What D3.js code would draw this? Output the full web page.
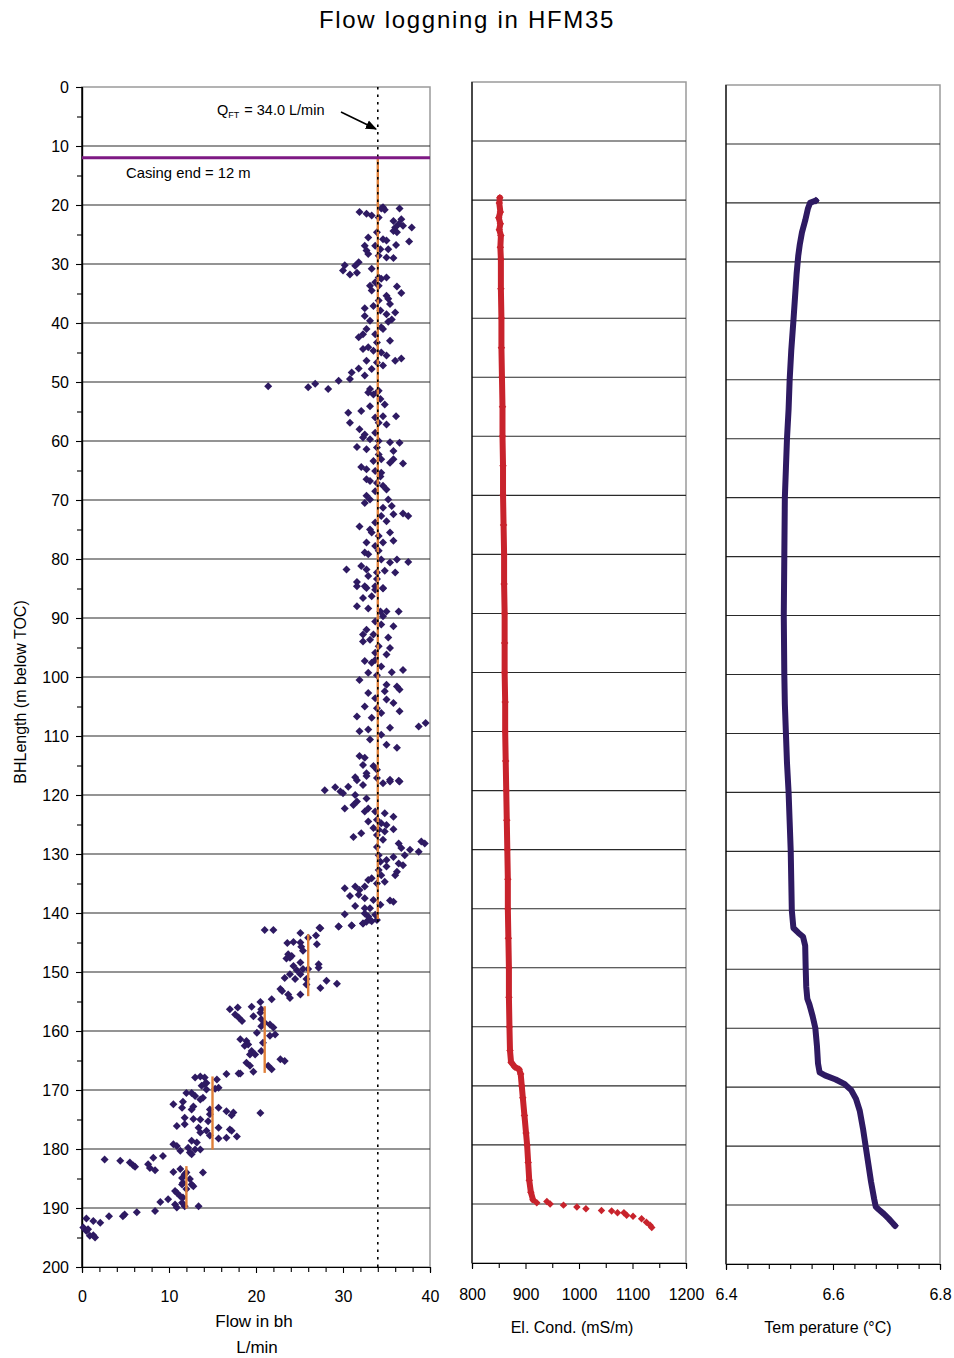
<!DOCTYPE html>
<html><head><meta charset="utf-8">
<script src="https://cdn.jsdelivr.net/npm/d3@7"></script>
<style>
body{margin:0;background:#fff}
svg{display:block}
text{font-family:"Liberation Sans",Arial,sans-serif;fill:#000}
</style>
</head><body>
<svg id="c" width="954" height="1358"></svg>
<script>
const chartTitle = "Flow loggning in HFM35";
const depthTicks = [0,10,20,30,40,50,60,70,80,90,100,110,120,130,140,150,160,170,180,190,200];
const depthMinorTicks = [5,15,25,35,45,55,65,75,85,95,105,115,125,135,145,155,165,175,185,195];
const flowTicks = [0,10,20,30,40];
const flowMinorTicks = [2,4,6,8,12,14,16,18,22,24,26,28,32,34,36,38];
const ecTicks = [800,900,1000,1100,1200];
const ecMinorTicks = [850,950,1050,1150];
const tempTicks = [6.4,6.6,6.8];
const tempMinorTicks = [6.44,6.48,6.52,6.56,6.64,6.68,6.72,6.76];
const qFT = 34.0;
const casingEnd = 12;
const flowSegments = [
  {flow:34, from:12, to:141},
  {flow:26, from:143.6, to:154.1},
  {flow:21, from:155.8, to:167.1},
  {flow:15, from:167.7, to:180.1},
  {flow:12, from:182.9, to:190.1}
];
// [depth (m), flow (L/min)]
const flowPoints = [
[20.4,34.6],[20.8,34.8],[20.6,34.4],[20.6,36.5],[21.2,31.9],[21.5,32.7],[21.8,33.3],[22.1,34.1],[22.7,35.8],[22.4,36.7],[23.2,36.4],[23.5,36.9],[23.8,36.0],[24.4,35.8],[24.6,36.2],[23.8,37.9],[24.6,33.9],[25.5,32.9],[25.8,34.6],[26.0,35.0],[26.2,37.6],[26.8,36.1],[26.9,32.5],[26.9,33.7],[27.7,32.7],[27.5,34.3],[27.5,35.2],[28.3,32.9],[28.6,34.1],[28.9,35.0],[29.0,35.8],[29.7,31.8],[30.3,31.4],[30.2,30.2],[31.1,30.0],[31.8,30.8],[31.5,31.6],[30.8,33.3],[32.3,34.1],[32.5,34.4],[32.3,35.0],[33.1,33.7],[33.7,33.1],[33.7,34.1],[33.8,36.2],[34.9,36.7],[34.5,33.3],[35.4,35.0],[35.9,35.2],[36.8,35.4],[36.2,34.1],[37.1,33.5],[37.5,32.5],[37.9,34.3],[38.2,36.0],[38.5,35.0],[38.8,32.5],[39.6,33.1],[39.8,35.2],[39.4,35.6],[40.7,34.4],[41.0,34.6],[41.0,32.7],[42.4,31.8],[41.9,32.3],[41.9,33.7],[43.3,33.9],[43.0,35.4],[44.4,32.3],[44.1,32.9],[44.7,33.5],[45.0,34.4],[45.5,35.0],[46.4,32.7],[46.7,33.9],[47.2,34.6],[46.0,36.7],[46.4,36.0],[47.8,33.3],[47.7,31.8],[48.9,32.5],[48.4,31.0],[49.5,30.8],[49.8,29.5],[50.3,26.8],[50.9,26.0],[51.2,28.3],[50.7,21.4],[51.2,33.1],[51.8,33.9],
[51.8,32.9],[52.1,33.5],[51.5,34.1],[52.9,34.3],[53.8,34.8],[54.1,33.1],[55.2,30.6],[56.9,30.8],[54.9,32.1],[56.0,33.7],[55.8,34.6],[56.9,34.1],[57.2,35.0],[55.8,36.1],[58.0,31.9],[58.9,32.5],[59.4,32.3],[58.6,33.7],[59.7,33.1],[60.0,34.1],[60.2,35.4],[60.3,36.5],[61.0,31.6],[61.4,32.7],[61.1,33.9],[61.7,35.8],[62.3,34.1],[63.4,33.5],[63.1,34.4],[63.1,35.8],[63.7,35.4],[63.8,36.9],[64.4,32.1],[64.8,32.7],[65.1,33.7],[65.4,34.4],[66.0,34.3],[66.5,32.7],[66.8,33.1],[67.1,33.9],[67.6,34.6],[68.2,35.0],[68.5,33.7],[69.3,32.7],[70.5,32.5],[69.9,33.1],[69.9,35.2],[71.3,34.6],[71.0,35.6],[72.4,35.8],[72.3,36.9],[72.7,37.5],[72.7,34.4],[73.6,35.0],[74.5,31.9],[73.8,33.7],[75.0,33.1],[75.5,33.3],[76.1,34.1],[75.5,35.4],[77.2,34.6],[76.9,35.8],[77.2,32.7],[77.8,33.7],[78.6,34.1],[79.2,32.9],[78.9,32.5],[80.1,34.4],[80.6,35.4],[80.1,36.2],[80.5,37.5],[81.8,30.4],[81.2,32.1],[81.8,32.7],[82.3,33.9],[82.0,34.8],[82.3,36.0],[82.9,32.9],[83.4,33.9],[83.9,31.6],[84.6,32.5],[84.6,33.7],[84.9,34.6],
[84.6,31.6],[84.9,32.7],[85.2,33.7],[85.0,34.6],[86.6,32.3],[86.3,33.3],[88.0,31.6],[88.4,32.9],[88.9,34.3],[88.9,35.0],[88.9,36.4],[89.7,34.6],[90.6,33.7],[91.1,34.4],[91.4,35.8],[92.0,32.7],[92.8,32.3],[92.8,33.5],[93.3,35.2],[94.0,32.3],[93.7,33.1],[94.8,34.1],[95.1,35.4],[96.2,35.0],[95.9,33.7],[97.3,32.5],[97.6,33.3],[97.1,33.7],[98.2,34.4],[99.2,35.6],[98.8,36.9],[99.3,32.9],[100.5,31.9],[99.7,33.9],[101.3,35.0],[101.6,36.2],[102.1,36.5],[102.4,34.8],[102.7,32.9],[103.6,33.7],[103.8,35.0],[104.4,35.8],[105.0,32.5],[105.3,33.9],[106.1,34.4],[105.8,36.5],[106.7,31.6],[106.9,33.3],[108.6,35.4],[108.4,38.7],[107.8,39.5],[109.2,31.9],[108.9,32.9],[110.6,33.1],[109.8,34.4],[111.5,35.0],[112.0,36.2],[113.4,31.9],[113.7,32.5],[114.9,32.3],[115.1,33.5],[116.3,32.7],[115.7,33.9],[117.0,31.4],[116.8,32.7],[117.1,33.9],[117.4,35.4],[117.6,36.4],
[119.2,27.9],[118.7,29.1],[119.4,29.7],[119.7,30.0],[118.6,30.6],[118.3,32.3],[117.5,31.6],[118.0,34.6],[117.7,35.4],[117.7,36.5],[120.0,31.4],[121.1,31.6],[121.7,31.2],[122.3,30.2],[120.6,32.7],[122.8,32.5],[122.3,32.9],[122.8,33.7],[123.1,34.8],[123.7,35.8],[124.5,32.9],[124.2,33.9],[124.8,34.4],[125.1,35.0],[125.6,33.5],[125.9,34.1],[126.2,34.8],[125.8,35.8],[127.1,31.2],[126.5,32.1],[126.8,33.9],[127.6,34.6],[128.2,36.4],[129.0,36.7],[129.3,37.7],[129.6,38.7],[127.9,39.0],[128.2,39.4],[128.8,33.9],[130.2,34.1],[130.5,35.8],[131.0,35.0],[130.2,37.1],[131.3,34.3],[132.1,35.0],[131.6,36.4],[131.9,36.9],[132.7,34.1],[133.6,34.4],[133.0,36.2],[133.6,36.0],[134.1,33.3],[134.4,32.9],[135.0,33.9],[134.7,34.8],[135.8,30.2],[135.5,31.4],[136.1,31.9],[135.5,32.5],[137.1,30.8],[136.9,31.8],[137.5,32.5],[137.8,33.5],[137.9,35.4],[138.1,35.8],[138.8,31.4],[139.2,32.5],[139.2,33.1],[138.6,34.3],[140.2,30.2],[140.1,32.5],[140.6,32.9],[140.3,33.7],[142.3,29.5],[142.6,27.4],[142.1,31.0],[141.8,32.3],[141.2,33.1],[141.2,33.9],[142.9,22.0],[142.9,21.0],
[142.3,29.5],[142.1,31.0],[141.8,32.3],[141.5,32.7],[141.4,33.3],[142.5,27.3],[143.4,25.1],[143.8,26.9],[144.2,26.0],[145.1,23.6],[144.9,24.3],[145.0,25.1],[145.7,25.2],[146.4,25.4],[145.3,27.0],[147.0,23.7],[147.6,23.9],[147.3,24.1],[147.7,23.5],[148.4,25.1],[149.0,24.3],[148.7,27.2],[149.3,27.2],[149.7,24.7],[149.5,25.4],[149.5,26.0],[150.4,23.9],[150.4,25.1],[151.2,25.8],[151.2,24.5],[151.0,23.3],[151.5,28.1],[152.0,29.3],[152.7,27.4],[152.1,25.8],[152.9,22.8],[153.2,23.0],[153.8,23.7],[154.4,23.9],[153.8,25.1],[154.6,21.8],[155.1,20.5],[155.9,19.5],[157.5,19.7],[156.3,20.6],[156.9,20.5],[156.3,17.0],[156.0,17.9],[157.2,17.6],[157.7,18.0],[158.3,18.4],[158.0,20.6],[158.6,21.0],[159.2,20.6],[158.9,21.6],[159.4,22.0],[160.6,22.2],[160.8,21.6],[160.3,20.1],[161.4,18.2],[161.7,18.9],[162.3,19.1],[162.5,18.7],[163.4,19.5],[164.0,19.3],[164.0,19.9],[163.4,20.6],[162.0,20.8],[165.4,18.9],[165.9,19.3],[165.9,21.4],[166.5,21.8],[164.8,22.8],[165.1,23.3],[166.9,19.7],[167.2,18.2],
[167.9,13.0],[167.7,13.6],[167.9,14.1],[168.8,14.3],[168.2,15.5],[169.6,15.7],[169.8,15.3],[167.3,16.6],[167.2,18.0],[170.5,12.0],[170.5,12.6],[171.0,13.0],[171.6,13.6],[171.3,13.9],[169.3,13.75],[169.0,14.1],[169.9,14.3],[172.4,10.5],[172.0,11.6],[173.0,11.5],[173.3,12.6],[172.8,12.8],[173.3,14.7],[173.0,15.7],[173.6,16.6],[173.8,17.4],[174.3,17.2],[176.1,10.9],[175.8,11.8],[174.7,11.8],[174.9,12.8],[175.0,13.6],[175.3,14.5],[174.1,14.7],[176.4,13.4],[177.2,13.6],[176.9,14.3],[176.4,15.7],[176.7,17.0],[176.9,17.2],[177.9,17.8],[178.2,15.7],[178.1,16.6],[177.7,14.7],[179.2,10.5],[179.5,10.9],[180.3,11.3],[179.8,12.2],[180.6,12.4],[180.9,12.6],[180.1,13.0],[178.9,13.2],[180.1,13.6],[178.6,12.6],[173.9,20.5],
[181.8,2.6],[182.0,4.4],[182.3,5.5],[182.8,5.9],[183.0,6.1],[182.6,7.6],[183.2,7.8],[181.5,8.2],[183.6,8.4],[181.2,9.3],[183.9,10.5],[183.4,11.3],[184.9,11.5],[185.7,11.6],[184.3,11.8],[184.0,12.0],[185.1,12.4],[186.0,12.6],[186.3,12.8],[187.1,10.7],[187.4,10.9],[188.0,11.3],[186.0,11.5],[188.2,11.6],[186.8,12.0],[189.1,11.5],[189.4,10.7],[189.9,10.9],[189.7,11.8],[189.7,13.4],[184.0,13.9],[189.0,9.0],[188.5,9.9],[190.5,8.4],[190.7,6.3],[191.1,4.9],[191.4,4.7],[191.4,3.1],[192.5,2.1],[192.2,1.3],[191.8,0.5],[193.3,0.15],[193.9,0.5],[194.7,0.9],[194.6,1.3],[195.0,1.5],[193.6,0.7]
];
// [depth (m), EC (mS/m)]
const ecProfile = [
[19.6,852],[20.5,851],[22,853],[23,850],[24,853],[25,851],[26,854],[28,853],[30,854],[35,854],[40,855],[45,855],[50,856],[55,857],[60,857],[65,858],[70,858],[75,859],[80,860],[85,860],[90,861],[95,861],[100,861],[105,862],[110,862],[115,863],[120,864],[125,865],[130,866],[135,867],[140,867],[145,868],[150,869],[155,869],[160,870],[164,871],[166,873],[166.8,880],[167.2,888],[168,891],[170,893],[172,895],[175,898],[178,901],[180,903],[183,905],[186,907],[188,910],[189.3,914],
[189.8,921],[189.6,940],[190.0,946],[190.2,971],[190.5,996],[190.8,1013],[191.1,1042],[191.2,1061],[191.5,1072],[191.5,1084],[191.9,1089],[192.1,1101],[192.5,1117],[193.1,1126],[193.6,1133],[194.0,1136]
];
// [depth (m), temperature (°C)]
const tempProfile = [
[19.6,6.568],[20.0,6.557],[21.0,6.553],[23,6.548],[25,6.542],[27,6.538],[29,6.535],[32,6.532],[36,6.529],[40,6.526],[45,6.522],[50,6.519],[55,6.517],[60,6.514],[65,6.512],[70,6.510],[80,6.509],[90,6.508],[100,6.509],[105,6.510],[110,6.512],[115,6.514],[120,6.517],[125,6.519],[130,6.521],[135,6.522],[140,6.523],[143,6.526],[143.8,6.535],[144.5,6.544],[146,6.548],[150,6.549],[153,6.550],[155,6.552],[156,6.556],[158,6.562],[160,6.567],[163,6.570],[166,6.572],[167.5,6.575],[168,6.585],[168.7,6.605],[169.5,6.622],[170.5,6.634],[172,6.643],[174,6.650],[177,6.656],[180,6.661],[183,6.666],[186,6.671],[189,6.677],[190.3,6.680],[190.8,6.686],[191.5,6.695],[192.3,6.704],[193,6.711],[193.5,6.716]
];

const svg = d3.select("#c");
const FS = 16;
const markColor = "#2e1a62";
const ecColor = "#c8232c";
const gridColor = "#2a2a2a";
const frameColor = "#9a9a9a";

svg.append("text").attr("x",467).attr("y",28).attr("text-anchor","middle")
  .attr("font-size",24).attr("letter-spacing","1.7px").text(chartTitle);

const diamond = d3.symbol(d3.symbolSquare, 32);

function panel(x0, x1, y0, y1, xDomain) {
  const g = svg.append("g");
  const x = d3.scaleLinear().domain(xDomain).range([x0, x1]);
  const y = d3.scaleLinear().domain([0, 200]).range([y0, y1]);
  g.append("rect").attr("x",x0).attr("y",y0).attr("width",x1-x0).attr("height",y1-y0)
    .attr("fill","none").attr("stroke",frameColor).attr("stroke-width",1.5);
  g.append("g").selectAll("line").data(depthTicks.filter(d=>d>0 && d<200)).join("line")
    .attr("x1",x0).attr("x2",x1).attr("y1",d=>y(d)).attr("y2",d=>y(d))
    .attr("stroke",gridColor).attr("stroke-width",1.1);
  g.append("line").attr("x1",x0).attr("x2",x0).attr("y1",y0).attr("y2",y1).attr("stroke","#000").attr("stroke-width",1.2);
  return {g, x, y};
}

function styleAxis(sel) {
  sel.select(".domain").attr("stroke","#000").attr("stroke-width",1.2);
  sel.selectAll(".tick line").attr("stroke","#000").attr("stroke-width",1.1);
  sel.selectAll("text").attr("font-size",FS).attr("fill","#000")
    .attr("font-family",'"Liberation Sans",Arial,sans-serif');
}

// ---------- Panel 1: flow ----------
const p1 = panel(82, 430, 87, 1267, [0, 40]);
p1.g.append("g").attr("transform","translate(82,0)")
  .call(d3.axisLeft(p1.y).tickValues(depthMinorTicks).tickSize(5).tickFormat(""))
  .call(styleAxis);
p1.g.append("g").attr("transform","translate(82,0)")
  .call(d3.axisLeft(p1.y).tickValues(depthTicks).tickSize(6).tickSizeOuter(0).tickPadding(7).tickFormat(d3.format("d")))
  .call(styleAxis);
p1.g.append("g").attr("transform","translate(0,1267)")
  .call(d3.axisBottom(p1.x).tickValues(flowMinorTicks).tickSize(5).tickFormat(""))
  .call(styleAxis);
p1.g.append("g").attr("transform","translate(0,1267)")
  .call(d3.axisBottom(p1.x).tickValues(flowTicks).tickSize(6).tickSizeOuter(0).tickPadding(18).tickFormat(d3.format("d")))
  .call(styleAxis);

p1.g.append("g").selectAll("path").data(flowPoints).join("path")
  .attr("d", diamond)
  .attr("transform", d => `translate(${p1.x(d[1])},${p1.y(d[0])}) rotate(45)`)
  .attr("fill", markColor);

p1.g.append("g").selectAll("line").data(flowSegments).join("line")
  .attr("x1",d=>p1.x(d.flow)).attr("x2",d=>p1.x(d.flow))
  .attr("y1",d=>p1.y(d.from)).attr("y2",d=>p1.y(d.to))
  .attr("stroke","#e0803a").attr("stroke-width",2.4);

p1.g.append("line").attr("x1",p1.x(qFT)).attr("x2",p1.x(qFT)).attr("y1",p1.y(0)).attr("y2",p1.y(200))
  .attr("stroke","#000").attr("stroke-width",1.6).attr("stroke-dasharray","2.5,5");

p1.g.append("line").attr("x1",82).attr("x2",430).attr("y1",p1.y(casingEnd)).attr("y2",p1.y(casingEnd))
  .attr("stroke","#7e1a84").attr("stroke-width",3);

const qt = p1.g.append("text").attr("x",217).attr("y",115).attr("font-size",14.5);
qt.append("tspan").text("Q");
qt.append("tspan").attr("font-size",9).attr("dy",3).text("FT");
qt.append("tspan").attr("dy",-3).attr("dx",5).text("= 34.0 L/min");
svg.append("defs").append("marker").attr("id","ah").attr("viewBox","0 0 10 10")
  .attr("refX",9).attr("refY",5).attr("markerWidth",7).attr("markerHeight",7).attr("orient","auto")
  .append("path").attr("d","M0,1 L10,5 L0,9 Z").attr("fill","#000");
p1.g.append("line").attr("x1",341).attr("y1",112).attr("x2",376).attr("y2",129)
  .attr("stroke","#000").attr("stroke-width",1.6).attr("marker-end","url(#ah)");
p1.g.append("text").attr("x",126).attr("y",178).attr("font-size",14.8).text("Casing end = 12 m");

svg.append("text").attr("transform","translate(26,692) rotate(-90)").attr("text-anchor","middle")
  .attr("font-size",FS).text("BHLength (m below TOC)");
svg.append("text").attr("x",254).attr("y",1327).attr("text-anchor","middle").attr("font-size",17).text("Flow in bh");
svg.append("text").attr("x",257).attr("y",1353).attr("text-anchor","middle").attr("font-size",17).text("L/min");

// ---------- Panel 2: EC ----------
const p2 = panel(472, 686, 82, 1263, [800, 1200]);
p2.g.append("g").attr("transform","translate(0,1263)")
  .call(d3.axisBottom(p2.x).tickValues(ecMinorTicks).tickSize(5).tickFormat(""))
  .call(styleAxis);
p2.g.append("g").attr("transform","translate(0,1263)")
  .call(d3.axisBottom(p2.x).tickValues(ecTicks).tickSize(6).tickSizeOuter(0).tickPadding(20).tickFormat(d3.format("d")))
  .call(styleAxis);
const ecDense = ecProfile.filter(d => d[0] <= 189.3);
p2.g.append("path").datum(ecDense)
  .attr("d", d3.line().x(d=>p2.x(d[1])).y(d=>p2.y(d[0])))
  .attr("fill","none").attr("stroke",ecColor).attr("stroke-width",6).attr("stroke-linejoin","round").attr("stroke-linecap","round");
p2.g.append("g").selectAll("path").data(ecProfile).join("path")
  .attr("d", d3.symbol(d3.symbolSquare, 28))
  .attr("transform", d => `translate(${p2.x(d[1])},${p2.y(d[0])}) rotate(45)`)
  .attr("fill", ecColor);
svg.append("text").attr("x",572).attr("y",1333).attr("text-anchor","middle").attr("font-size",FS).text("El. Cond. (mS/m)");

// ---------- Panel 3: Temperature ----------
const p3 = panel(726, 940, 85, 1264, [6.4, 6.8]);
p3.g.append("g").attr("transform","translate(0,1264)")
  .call(d3.axisBottom(p3.x).tickValues(tempMinorTicks).tickSize(5).tickFormat(""))
  .call(styleAxis);
p3.g.append("g").attr("transform","translate(0,1264)")
  .call(d3.axisBottom(p3.x).tickValues(tempTicks).tickSize(6).tickSizeOuter(0).tickPadding(19).tickFormat(d3.format(".1f")))
  .call(styleAxis);
p3.g.append("path").datum(tempProfile)
  .attr("d", d3.line().x(d=>p3.x(d[1])).y(d=>p3.y(d[0])))
  .attr("fill","none").attr("stroke",markColor).attr("stroke-width",6).attr("stroke-linejoin","round").attr("stroke-linecap","round");
p3.g.append("g").selectAll("path").data([tempProfile[0], tempProfile[tempProfile.length-1]]).join("path")
  .attr("d", d3.symbol(d3.symbolSquare, 30))
  .attr("transform", d => `translate(${p3.x(d[1])},${p3.y(d[0])}) rotate(45)`)
  .attr("fill", markColor);
svg.append("text").attr("x",828).attr("y",1333).attr("text-anchor","middle").attr("font-size",FS).text("Tem perature (°C)");
</script>
</body></html>
